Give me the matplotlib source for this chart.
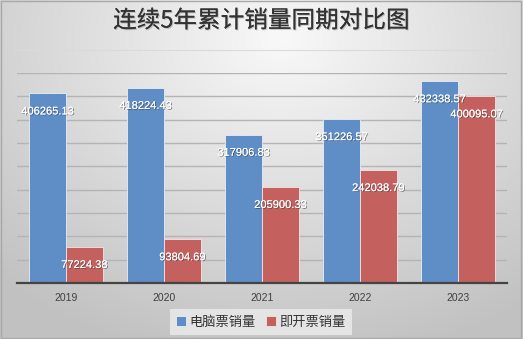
import numpy as np
import matplotlib
matplotlib.use("Agg")
import matplotlib.pyplot as plt
import matplotlib.patheffects as pe

plt.rcParams['font.family'] = ['Noto Sans CJK SC', 'DejaVu Sans']

years = ["2019", "2020", "2021", "2022", "2023"]
computer_tickets = [406265.13, 418224.43, 317906.83, 351226.57, 432338.57]
instant_tickets = [77224.38, 93804.69, 205900.33, 242038.79, 400095.07]
series_names = ["电脑票销量", "即开票销量"]
title = "连续5年累计销量同期对比图"

blue = "#5f8ec6"
red = "#c4615f"

fig = plt.figure(figsize=(5.23, 3.39), dpi=100)

# radial gray gradient background
bg = fig.add_axes([0, 0, 1, 1], zorder=-10)
yy, xx = np.mgrid[0:339, 0:523]
d = np.sqrt(((xx - 280) / 420.0) ** 2 + ((yy - 40) / 330.0) ** 2)
shade = np.clip(0.975 - 0.22 * d, 0.76, 0.98)
img = np.dstack([shade, shade, shade])
bg.imshow(img, aspect='auto', extent=[0, 1, 0, 1], origin='upper')
bg.set_xlim(0, 1)
bg.set_ylim(0, 1)
bg.axis('off')
# outer frame and title separator
bg.add_patch(plt.Rectangle((0.002, 0.003), 0.995, 0.993, fill=False,
                           edgecolor="#a8a8a8", lw=1.0))
bg.plot([0.033, 0.97], [1 - 50 / 339, 1 - 50 / 339], color="#dadada", lw=0.8)

ax = fig.add_axes([17 / 523, 1 - 283 / 339, 490 / 523, 210 / 339])
ax.patch.set_alpha(0)
x = np.arange(len(years))
w = 0.375
b1 = ax.bar(x - w / 2, computer_tickets, w, color=blue, edgecolor="#e8eef6",
            linewidth=0.6, label=series_names[0], zorder=3)
b2 = ax.bar(x + w / 2, instant_tickets, w, color=red, edgecolor="#f4e4e4",
            linewidth=0.6, label=series_names[1], zorder=3)

ax.set_xlim(-0.5, len(years) - 0.5)
ax.set_ylim(0, 450000)
ax.set_yticks(np.arange(0, 450001, 50000))
ax.yaxis.grid(True, color="#b4b4b4", lw=1.0, zorder=0)
ax.tick_params(axis='y', length=0, labelleft=False)
ax.tick_params(axis='x', length=0, pad=7, labelsize=7.5, colors="#404040")
ax.set_xticks(x)
ax.set_xticklabels(years, fontfamily=["Liberation Sans", "DejaVu Sans"])
for s in ["top", "right", "left"]:
    ax.spines[s].set_visible(False)
ax.spines["bottom"].set_color("#444444")
ax.spines["bottom"].set_linewidth(1.6)
ax.spines["bottom"].set_zorder(4)

shadow = [pe.withSimplePatchShadow(offset=(0.6, -0.6), shadow_rgbFace="#333333", alpha=0.6),
          pe.Normal()]
for bars, vals in ((b1, computer_tickets), (b2, instant_tickets)):
    for r, v in zip(bars, vals):
        ax.annotate(f"{v:.2f}", (r.get_x() + r.get_width() / 2, v),
                    xytext=(0, -13), textcoords="offset points",
                    ha="center", va="center", color="white", fontsize=8,
                    fontfamily=["Liberation Sans", "DejaVu Sans"],
                    path_effects=shadow, zorder=5)

fig.text(0.5, 1 - 21 / 339, title, ha="center", va="center", fontsize=17,
         fontweight="medium", color="#333333",
         path_effects=[pe.withSimplePatchShadow(offset=(0.8, -0.8), shadow_rgbFace="#999999", alpha=0.5),
                       pe.Normal()])

leg = fig.legend(handles=[b1, b2], labels=series_names, loc="center",
                 bbox_to_anchor=(261 / 523, 1 - 322 / 339), ncol=2, fontsize=9.5,
                 frameon=True, handlelength=0.7, handleheight=0.7,
                 handletextpad=0.3, columnspacing=0.8, borderpad=0.3)
leg.get_frame().set_facecolor("#e4e4e4")
leg.get_frame().set_edgecolor("none")
leg.get_frame().set_alpha(1)
leg.get_frame().set_boxstyle("square", pad=0.2)
for t in leg.get_texts():
    t.set_color("#333333")

fig.savefig("out.png", dpi=100)
